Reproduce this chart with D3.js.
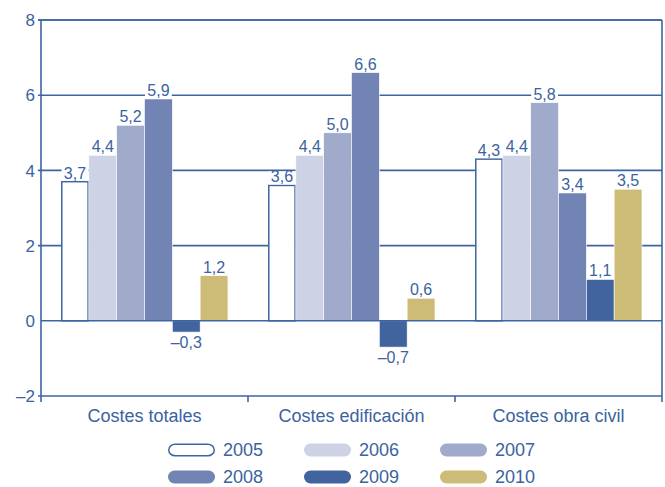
<!DOCTYPE html>
<html><head><meta charset="utf-8">
<script src="https://cdn.jsdelivr.net/npm/d3@7"></script>
<style>body{margin:0;background:#fff}svg{display:block}text{font-family:"Liberation Sans",Arial,sans-serif;fill:#3b63a0}</style>
</head><body><svg id="c" width="665" height="487"></svg>
<script>
const categories = ["Costes totales", "Costes edificación", "Costes obra civil"];
const years = ["2005", "2006", "2007", "2008", "2009", "2010"];
const v2005 = [3.7, 3.6, 4.3];
const v2006 = [4.4, 4.4, 4.4];
const v2007 = [5.2, 5.0, 5.8];
const v2008 = [5.9, 6.6, 3.4];
const v2009 = [-0.3, -0.7, 1.1];
const v2010 = [1.2, 0.6, 3.5];
const yTicks = [-2, 0, 2, 4, 6, 8];
const colors = ["#ffffff", "#cdd2e5", "#a0aacb", "#7184b3", "#41639e", "#cdbc77"];
const series = [v2005, v2006, v2007, v2008, v2009, v2010];
const blue = "#3d65a3";

const svg = d3.select("#c");
const L = 41, R = 662, T = 20, B = 396;
const y = d3.scaleLinear().domain([-2, 8]).range([B, T]);
const x0 = d3.scaleBand().domain(categories).range([L, R]).paddingInner(0).paddingOuter(0);
const x1 = d3.scaleBand().domain(years).range([0, x0.bandwidth()]).paddingOuter(0.72).paddingInner(0);
const fmt = v => (v < 0 ? "\u2013" : "") + Math.abs(v).toFixed(1).replace(".", ",");

// gridlines
svg.append("g").selectAll("line").data(yTicks.filter(t => t > -2 && t !== 0)).join("line")
  .attr("x1", L - 3).attr("x2", R).attr("y1", d => y(d)).attr("y2", d => y(d))
  .attr("stroke", blue).attr("stroke-width", 1.6);

// bars
const data = [];
categories.forEach((c, i) => years.forEach((yr, j) => data.push({c, yr, j, v: series[j][i]})));
svg.append("g").selectAll("rect").data(data).join("rect")
  .attr("x", d => x0(d.c) + x1(d.yr) + (d.j === 0 ? 0.75 : 0))
  .attr("width", d => x1.bandwidth() - (d.j === 0 ? 1.5 : 0))
  .attr("y", d => y(Math.max(0, d.v)))
  .attr("height", d => Math.abs(y(d.v) - y(0)))
  .attr("fill", d => colors[d.j])
  .attr("stroke", d => d.j === 0 ? blue : "#fff")
  .attr("stroke-width", d => d.j === 0 ? 1.5 : 0.6);

// labels
const lg = svg.append("g");
data.forEach(d => {
  const cx = x0(d.c) + x1(d.yr) + x1.bandwidth() / 2;
  if (d.v >= 0) {
    const top = y(d.v);
    lg.append("rect").attr("x", cx - x1.bandwidth() / 2 + 0.5).attr("width", x1.bandwidth() - 1)
      .attr("y", top - 14).attr("height", 13).attr("fill", "#fff");
    lg.append("text").attr("x", cx).attr("y", top - 3).attr("text-anchor", "middle")
      .attr("font-size", 16).text(fmt(d.v));
  } else {
    lg.append("text").attr("x", cx).attr("y", y(d.v) + 16).attr("text-anchor", "middle")
      .attr("font-size", 16).text(fmt(d.v));
  }
});

// frame and zero line
const fr = svg.append("g").attr("stroke", blue).attr("stroke-width", 1.6).attr("fill", "none");
fr.append("line").attr("x1", L - 3).attr("x2", R).attr("y1", y(8)).attr("y2", y(8));
fr.append("line").attr("x1", L).attr("x2", R).attr("y1", y(0)).attr("y2", y(0));
fr.append("line").attr("x1", L - 3).attr("x2", R).attr("y1", B).attr("y2", B);
fr.append("line").attr("x1", L).attr("x2", L).attr("y1", T).attr("y2", B + 6);
fr.append("line").attr("x1", R).attr("x2", R).attr("y1", T).attr("y2", B + 6);
fr.selectAll(".tk").data(categories.slice(1)).join("line")
  .attr("x1", d => x0(d)).attr("x2", d => x0(d)).attr("y1", B).attr("y2", B + 6);

// y tick labels
svg.append("g").selectAll("text").data(yTicks).join("text")
  .attr("x", 35).attr("y", d => y(d)).attr("dy", "0.36em").attr("text-anchor", "end")
  .attr("font-size", 17).text(d => d < 0 ? "\u2013" + Math.abs(d) : d);

// category labels
svg.append("g").selectAll("text").data(categories).join("text")
  .attr("x", d => x0(d) + x0.bandwidth() / 2).attr("y", 422).attr("text-anchor", "middle")
  .attr("font-size", 18).text(d => d);

// legend
const legX = [168, 304, 440], legY = [450, 477];
const leg = svg.append("g");
years.forEach((yr, j) => {
  const gx = legX[j % 3], gy = legY[Math.floor(j / 3)];
  leg.append("rect").attr("x", gx + (j === 0 ? 0.75 : 0)).attr("y", gy - 6.5 + (j === 0 ? 0.75 : 0))
    .attr("width", 47 - (j === 0 ? 1.5 : 0)).attr("height", 13 - (j === 0 ? 1.5 : 0))
    .attr("rx", 6.5).attr("fill", colors[j]).attr("stroke", j === 0 ? blue : "none").attr("stroke-width", 1.5);
  leg.append("text").attr("x", gx + 55).attr("y", gy).attr("dy", "0.36em")
    .attr("font-size", 18).text(yr);
});
</script></body></html>
